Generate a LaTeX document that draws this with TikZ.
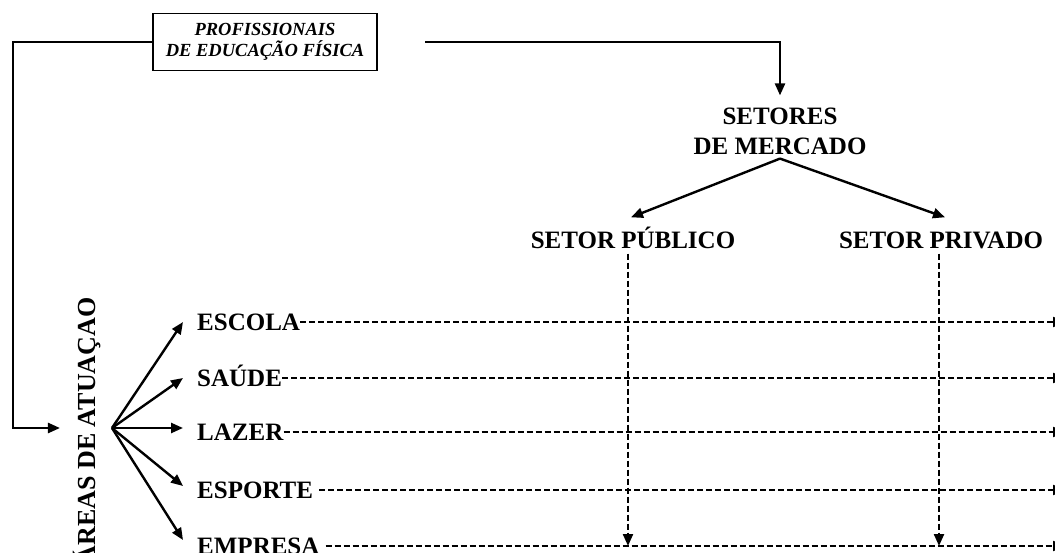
\documentclass[tikz,border=0pt]{standalone}
\usepackage{fontspec}
\setmainfont{Liberation Serif}
\usetikzlibrary{arrows.meta}

\begin{document}
\begin{tikzpicture}[x=1pt,y=-1pt,
		every node/.style={font=\fontsize{25}{30}\selectfont\bfseries, inner sep=0pt},
		seta/.style={line width=2.4pt, -{Triangle[length=12pt,width=10pt]}},
		tracejado/.style={line width=2.2pt, dash pattern=on 6pt off 3pt, -{Triangle[length=12pt,width=10pt]}},
		rotulo/.style={text height=17pt, text depth=0pt},
		area/.style={rotulo, anchor=west}]
		\useasboundingbox (0,0) rectangle (1055,553);
		% caixa de cima
		\node [draw, line width=1.4pt, align=center, minimum width=224pt, minimum height=57pt,
		font=\fontsize{18.5}{21}\selectfont\bfseries\itshape] (prof) at (265,42)
		{PROFISSIONAIS\\DE EDUCAÇÃO FÍSICA};
		\coordinate (ini) at (425,42);
		\coordinate (canto) at (13,42);
		\coordinate (fim) at (1065,0);
		% setores
		\node [align=center] (setores) at (780,131) {SETORES\\DE MERCADO};
		\node [rotulo] (publico) at (633,240) {SETOR PÚBLICO};
		\node [rotulo] (privado) at (941,240) {SETOR PRIVADO};
		% areas
		\node [rotate=90, font=\fontsize{26}{30}\selectfont\bfseries] (areas) at (87,431) {ÁREAS DE ATUAÇAO};
		\coordinate (origem) at (112,428);
		\node [area] (escola) at (197,322) {ESCOLA};
		\node [area] (saude) at (197,378) {SAÚDE};
		\node [area] (lazer) at (197,432) {LAZER};
		\node [area] (esporte) at (197,490) {ESPORTE};
		\node [area] (empresa) at (197,546) {EMPRESA};
		% ligacoes
		\draw [seta] (ini) -| ([yshift=12pt]setores.north);
		\draw [seta] (prof.west) -- (canto) |- ([xshift=-13pt]areas.north |- origem);
		\draw [seta] ([yshift=-4pt]setores.south) -- ([xshift=-2pt,yshift=14pt]publico.north);
		\draw [seta] ([yshift=-4pt]setores.south) -- ([xshift=4pt,yshift=14pt]privado.north);
		\foreach \a/\d in {escola/0, saude/0, lazer/4, esporte/4, empresa/6}
		\draw [seta] (origem) -- ([xshift=-14pt,yshift=\d pt]\a.west);
		\draw [tracejado] (escola.east) -- (escola -| fim);
		\draw [tracejado] (saude.east) -- (saude -| fim);
		\draw [tracejado] (lazer.east) -- (lazer -| fim);
		\draw [tracejado] ([xshift=6pt]esporte.east) -- (esporte -| fim);
		\draw [tracejado] ([xshift=6pt]empresa.east) -- (empresa -| fim);
		\draw [tracejado] ([xshift=-5pt,yshift=-5pt]publico.south) -- ([xshift=-5pt]publico.south |- empresa);
		\draw [tracejado] ([xshift=-2pt,yshift=-5pt]privado.south) -- ([xshift=-2pt]privado.south |- empresa);
	\end{tikzpicture}
\end{document}
